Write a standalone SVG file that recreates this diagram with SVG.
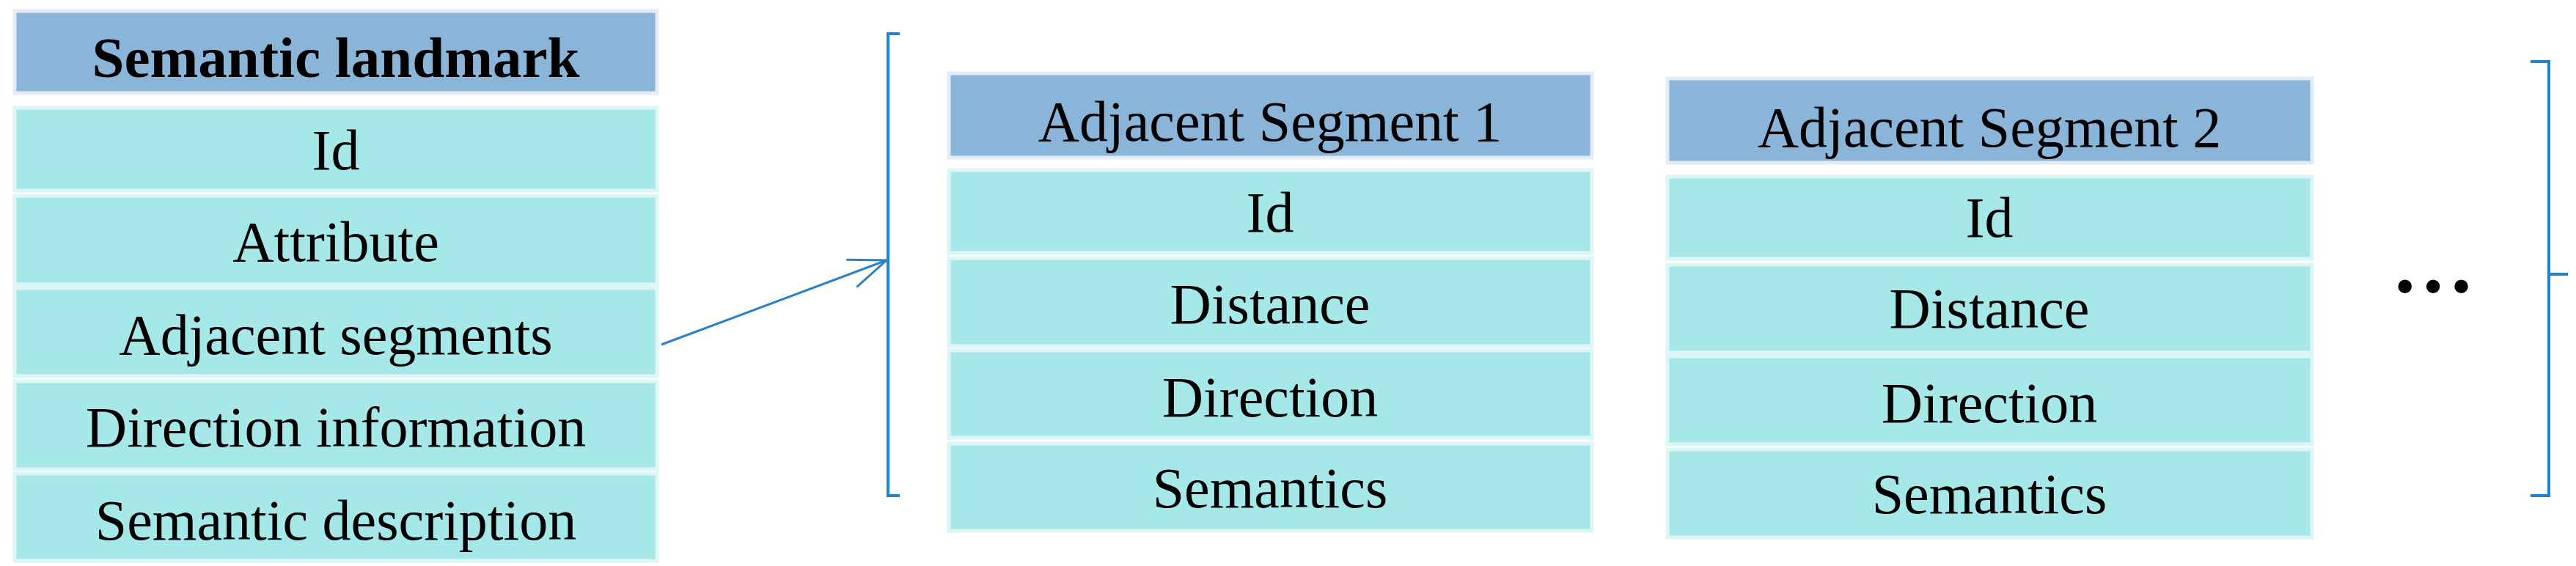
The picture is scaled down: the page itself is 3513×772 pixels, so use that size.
<svg xmlns="http://www.w3.org/2000/svg" width="3513" height="772" viewBox="0 0 3513 772">
<style>
.hd{fill:#8AB4D8;stroke:#E3ECF6;stroke-width:5}
.rw{fill:#A6E8E8;stroke:#DDF5F5;stroke-width:5}
text{font-family:"Liberation Serif","Times New Roman",serif;fill:#000;text-anchor:middle;font-size:78px}
.b{font-weight:bold;font-size:79px}
.br{fill:none;stroke:#2383C8;stroke-width:4}
.ln{fill:none;stroke:#2E7FC4;stroke-width:3}
</style>
<defs>
<marker id="arr" markerUnits="userSpaceOnUse" viewBox="-60 -25 64 50" refX="0" refY="0" markerWidth="64" markerHeight="50" orient="auto">
<path d="M-51,-20 L0,0 L-51,20" fill="none" stroke="#2E7FC4" stroke-width="3"/>
</marker>
</defs>
<rect width="3513" height="772" fill="#fff"/>
<g id="semantic-landmark">
<rect class="hd" x="20" y="15" width="876" height="112"/>
<rect class="rw" x="20" y="147" width="876" height="113"/>
<rect class="rw" x="20" y="267" width="876" height="121"/>
<rect class="rw" x="20" y="393" width="876" height="120"/>
<rect class="rw" x="20" y="520" width="876" height="120"/>
<rect class="rw" x="20" y="646" width="876" height="119"/>
<text class="b" x="458" y="105">Semantic landmark</text>
<text x="458" y="231">Id</text>
<text x="458" y="356">Attribute</text>
<text x="458" y="483">Adjacent segments</text>
<text x="458" y="609">Direction information</text>
<text x="458" y="736">Semantic description</text>
</g>
<g id="adjacent-segment-1">
<rect class="hd" x="1294" y="100" width="877" height="115"/>
<rect class="rw" x="1294" y="232" width="877" height="113"/>
<rect class="rw" x="1294" y="352" width="877" height="120"/>
<rect class="rw" x="1294" y="478" width="877" height="119"/>
<rect class="rw" x="1294" y="605" width="877" height="119"/>
<text x="1732" y="192">Adjacent Segment 1</text>
<text x="1732" y="316">Id</text>
<text x="1732" y="441">Distance</text>
<text x="1732" y="568">Direction</text>
<text x="1732" y="692">Semantics</text>
</g>
<g id="adjacent-segment-2">
<rect class="hd" x="2274" y="107" width="879" height="115"/>
<rect class="rw" x="2274" y="241" width="879" height="112"/>
<rect class="rw" x="2274" y="361" width="879" height="120"/>
<rect class="rw" x="2274" y="486" width="879" height="120"/>
<rect class="rw" x="2274" y="613" width="879" height="120"/>
<text x="2713" y="200">Adjacent Segment 2</text>
<text x="2713" y="323">Id</text>
<text x="2713" y="447">Distance</text>
<text x="2713" y="576">Direction</text>
<text x="2713" y="700">Semantics</text>
</g>
<g id="ellipsis">
<text class="b" x="3318" y="398" style="font-size:114px">…</text>
</g>
<g id="brackets">
<path class="br" d="M1227,46 H1211 V676 H1227"/>
<path class="br" d="M3451,84 H3476 V676 H3451 M3476,374 H3502"/>
</g>
<g id="connectors">
<line class="ln" x1="902" y1="470" x2="1209" y2="355" marker-end="url(#arr)"/>
</g>
</svg>
